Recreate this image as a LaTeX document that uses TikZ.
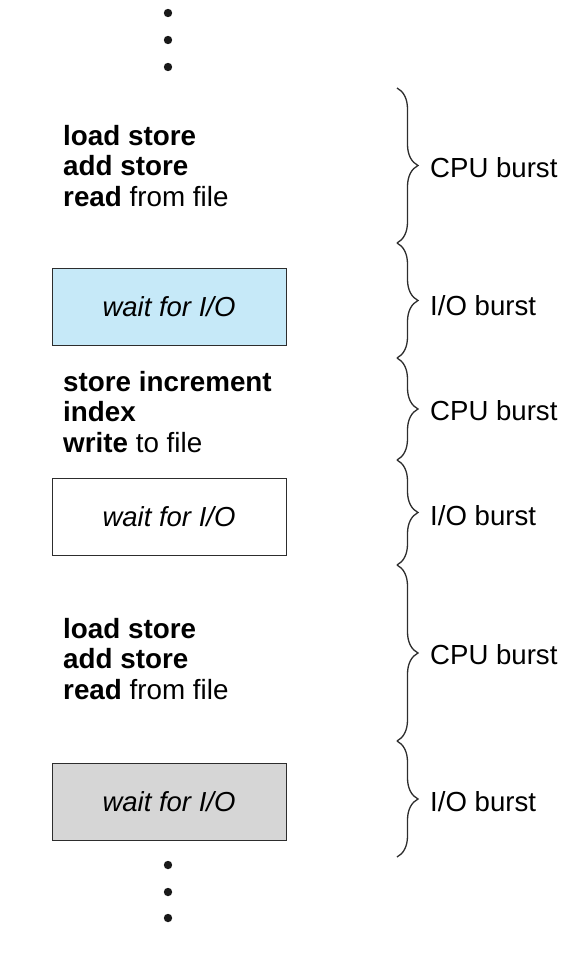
\documentclass[tikz,border=0pt]{standalone}
\usepackage{fontspec}
\setmainfont{Liberation Sans}
\usetikzlibrary{decorations.pathreplacing,calc}
\definecolor{lineg}{RGB}{45,45,45}
\definecolor{boxblue}{RGB}{198,233,248}
\definecolor{boxgray}{RGB}{214,214,214}
\tikzset{
  codetext/.style={anchor=base west,align=left,inner sep=0pt,font=\fontsize{27.8}{30.5}\selectfont},
  waitbox/.style={draw=lineg,line width=0.9pt,minimum width=234pt,minimum height=77pt,inner sep=0pt,font=\fontsize{27.5}{30}\selectfont\itshape},
  burstbrace/.style={draw=lineg,line width=1.3pt,decorate,decoration={brace,amplitude=21pt}},
  burstlabel/.style={anchor=west,inner sep=0pt,font=\fontsize{27.6}{30}\selectfont},
  dotmark/.style={fill=black!90,draw=none}
}
\begin{document}
\begin{tikzpicture}[x=1pt,y=-1pt]
\useasboundingbox (0,0) rectangle (574,966);
% dots
\foreach \n/\yy in {d1/13,d2/40,d3/67,d4/865,d5/892,d6/918}
  \fill[dotmark] (168,\yy) circle (4.2pt) coordinate (\n);
% code blocks (anchored at the baseline of the last line)
\node[codetext] (c1) at (63,206) {\textbf{load store}\\\textbf{add store}\\\textbf{read} from file};
\node[codetext] (c2) at (63,452) {\textbf{store increment}\\\textbf{index}\\\textbf{write} to file};
\node[codetext] (c3) at (63,699) {\textbf{load store}\\\textbf{add store}\\\textbf{read} from file};
% wait boxes
\node[waitbox,fill=boxblue] (w1) at (169,306.5) {wait for I/O};
\node[waitbox,fill=white] (w2) at (169,516.5) {wait for I/O};
\node[waitbox,fill=boxgray] (w3) at (169,801.5) {wait for I/O};
% brace end points
\coordinate (b0) at (397,88);
\coordinate (b1) at (397,243);
\coordinate (b2) at (397,358);
\coordinate (b3) at (397,460);
\coordinate (b4) at (397,565);
\coordinate (b5) at (397,741);
\coordinate (b6) at (397,857);
\draw[burstbrace] (b0) -- (b1);
\draw[burstbrace] (b1) -- (b2);
\draw[burstbrace] (b2) -- (b3);
\draw[burstbrace] (b3) -- (b4);
\draw[burstbrace] (b4) -- (b5);
\draw[burstbrace] (b5) -- (b6);
\node[burstlabel] (l1) at ($(b0)!0.5!(b1)+(33,2)$) {CPU burst};
\node[burstlabel] (l2) at ($(b1)!0.5!(b2)+(33,5)$) {I/O burst};
\node[burstlabel] (l3) at ($(b2)!0.5!(b3)+(33,2)$) {CPU burst};
\node[burstlabel] (l4) at ($(b3)!0.5!(b4)+(33,3)$) {I/O burst};
\node[burstlabel] (l5) at ($(b4)!0.5!(b5)+(33,2)$) {CPU burst};
\node[burstlabel] (l6) at ($(b5)!0.5!(b6)+(33,3)$) {I/O burst};
\end{tikzpicture}
\end{document}
